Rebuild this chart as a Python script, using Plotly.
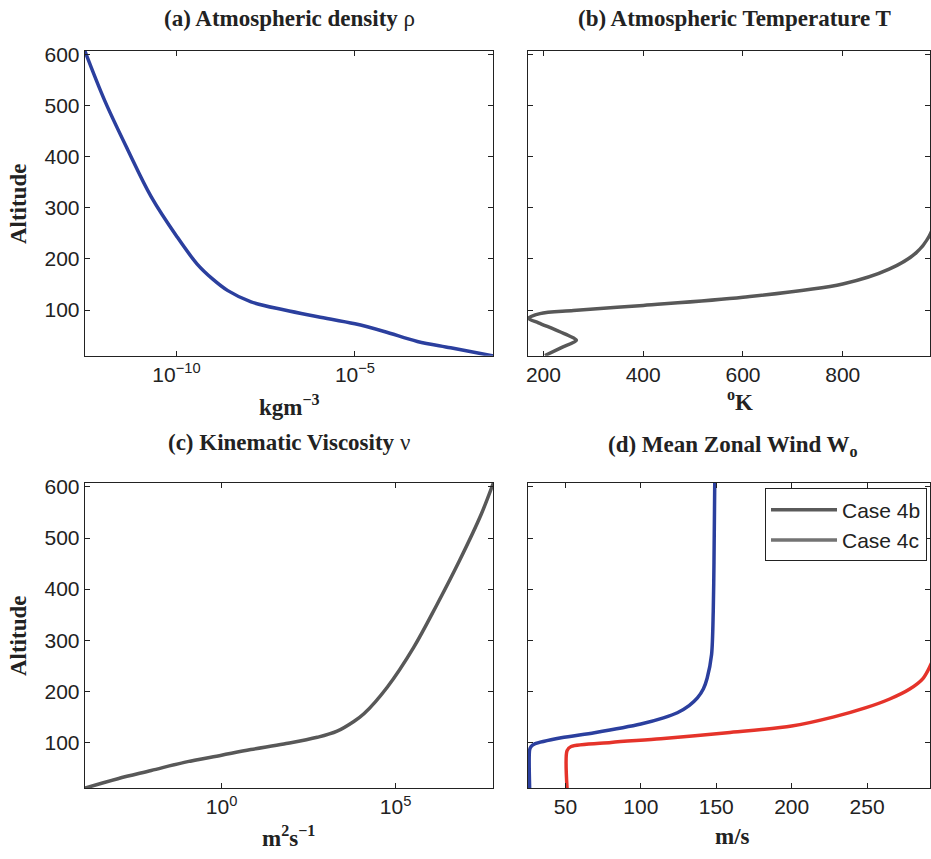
import plotly.graph_objects as go

# ---------------- data ----------------
# (a) Atmospheric density (kg m^-3) vs altitude
alt_rho = [10, 26, 38.5, 58, 73, 87, 100, 116, 138, 161, 190, 245, 322, 413, 510, 608]
rho = [7.59e-2, 4.79e-3, 5.62e-4, 6.61e-5, 1.0e-5, 9.12e-7, 1.07e-7, 1.23e-8,
       2.75e-9, 1.02e-9, 3.8e-10, 1.0e-10, 1.95e-11, 4.37e-12, 9.77e-13, 2.69e-13]

# (b) Atmospheric temperature (K) vs altitude
alt_T = [11, 26, 41, 50, 62, 75, 84, 93, 99, 109, 125, 151, 180, 212, 244, 300, 400, 500, 610]
temp_K = [203, 235, 266, 250, 222, 190, 170, 193, 260, 400, 600, 800, 893, 947, 973, 992, 1000, 1000, 1000]

# (c) Kinematic viscosity (m^2 s^-1) vs altitude
alt_nu = [10.5, 29, 45, 61, 75, 86, 97, 110, 122, 141, 156, 208, 286, 370, 455, 545, 608]
nu = [1.17e-4, 1.05e-3, 9.55e-3, 8.51e-2, 1.0, 6.92, 61.7, 562, 2.09e3, 6.31e3,
      1.23e4, 5.75e4, 3.31e5, 1.55e6, 6.76e6, 2.82e7, 6.46e7]

# (d) Mean zonal wind (m/s) vs altitude
alt_w4b = [10, 86, 92, 97, 109, 119, 136, 148, 158, 172, 187, 205, 226, 272, 356, 453, 608]
wind_4b = [26.3, 26.3, 27.2, 29.6, 47.2, 69.2, 100, 115, 124.2, 132, 137.5, 141.5, 144,
           146.9, 148, 148.5, 149]
alt_w4c = [10, 84, 92, 100, 107, 119, 132, 150, 168, 185, 204, 225, 249, 280, 350, 450, 608]
wind_4c = [51.1, 51.1, 53.8, 80.2, 113.2, 157.3, 200, 228, 249.3, 265, 278, 287, 291.7,
           296, 300, 302, 303]

legend_names = ["Case 4b", "Case 4c"]
y_ticks = [100, 200, 300, 400, 500, 600]

# ---------------- figure ----------------
W, H = 931, 859
BLUE = "#2b3f9e"
RED = "#e5332a"
GRAY = "#585858"
AX = "#222222"
SANS = "Liberation Sans, Arial, sans-serif"
SERIF = "Liberation Serif, Times New Roman, serif"

fig = go.Figure()
fig.add_trace(go.Scatter(x=rho, y=alt_rho, mode="lines",
                         line=dict(color=BLUE, width=3.5, shape="spline", smoothing=1.0),
                         xaxis="x", yaxis="y", showlegend=False))
fig.add_trace(go.Scatter(x=temp_K, y=alt_T, mode="lines",
                         line=dict(color=GRAY, width=3.5, shape="spline", smoothing=0.9),
                         xaxis="x2", yaxis="y2", showlegend=False))
fig.add_trace(go.Scatter(x=nu, y=alt_nu, mode="lines",
                         line=dict(color=GRAY, width=3.5, shape="spline", smoothing=1.0),
                         xaxis="x3", yaxis="y3", showlegend=False))
fig.add_trace(go.Scatter(x=wind_4b, y=alt_w4b, mode="lines",
                         line=dict(color=BLUE, width=3.5, shape="spline", smoothing=0.8),
                         xaxis="x4", yaxis="y4", showlegend=False))
fig.add_trace(go.Scatter(x=wind_4c, y=alt_w4c, mode="lines",
                         line=dict(color=RED, width=3.5, shape="spline", smoothing=0.8),
                         xaxis="x4", yaxis="y4", showlegend=False))
# legend entries (drawn gray in the reference)
fig.add_trace(go.Scatter(x=[None], y=[None], mode="lines", name=legend_names[0],
                         line=dict(color="#5a5a5a", width=3.5), xaxis="x4", yaxis="y4"))
fig.add_trace(go.Scatter(x=[None], y=[None], mode="lines", name=legend_names[1],
                         line=dict(color="#737373", width=3.5), xaxis="x4", yaxis="y4"))


def fx(p):
    return p / W


def fy(p):
    return 1 - p / H


common = dict(showline=True, linecolor=AX, linewidth=1, mirror="ticks", ticks="inside",
              ticklen=5, tickcolor=AX, showgrid=False, zeroline=False,
              tickfont=dict(family=SANS, size=21, color=AX))

top_dom = [fy(351), fy(43)]
bot_dom = [fy(787.5), fy(479.3)]
left_dom = [fx(83), fx(493)]
right_dom = [fx(527.7), 1.0]
YR = [10.5, 608]

fig.update_layout(
    width=W, height=H, margin=dict(l=0, r=0, t=0, b=0),
    paper_bgcolor="white", plot_bgcolor="white",
    hovermode=False,
    xaxis=dict(domain=left_dom, anchor="y", type="log", range=[-12.57, -1.12],
               tickvals=[1e-10, 1e-5], ticktext=["10<sup>−10</sup>", "10<sup>−5</sup>"], **common),
    yaxis=dict(domain=top_dom, anchor="x", range=YR, tickvals=y_ticks, **common),
    xaxis2=dict(domain=right_dom, anchor="y2", range=[169, 975], tickvals=[200, 400, 600, 800], **common),
    yaxis2=dict(domain=top_dom, anchor="x2", range=YR, tickvals=y_ticks, showticklabels=False, **common),
    xaxis3=dict(domain=left_dom, anchor="y3", type="log", range=[-3.93, 7.81],
                tickvals=[1, 1e5], ticktext=["10<sup>0</sup>", "10<sup>5</sup>"], **common),
    yaxis3=dict(domain=bot_dom, anchor="x3", range=YR, tickvals=y_ticks, **common),
    xaxis4=dict(domain=right_dom, anchor="y4", range=[25.2, 291.7], tickvals=[50, 100, 150, 200, 250], **common),
    yaxis4=dict(domain=bot_dom, anchor="x4", range=YR, tickvals=y_ticks, showticklabels=False, **common),
    legend=dict(x=fx(928), xanchor="right", y=fy(485), yanchor="top",
                bordercolor=AX, borderwidth=1, bgcolor="white",
                font=dict(family=SANS, size=21, color=AX),
                itemwidth=66, tracegroupgap=0),
)

serif = dict(family=SERIF, size=23, color=AX)
ann = [
    ("<b>(a) Atmospheric density</b> ρ", 288, 11, 0),
    ("<b>(b) Atmospheric Temperature T</b>", 735, 11, 0),
    ("<b>(c) Kinematic Viscosity</b> ν", 288, 439, 0),
    ("<b>(d) Mean Zonal Wind W<sub>o</sub></b>", 733, 442, 0),
    ("<b>Altitude</b>", 16, 197, -90),
    ("<b>Altitude</b>", 16, 633, -90),
    ("<b>kgm<sup>−3</sup></b>", 288, 401, 0),
    ("<b><sup>o</sup>K</b>", 740, 396, 0),
    ("<b>m<sup>2</sup>s<sup>−1</sup></b>", 287, 836, 0),
    ("<b>m/s</b>", 733, 836, 0),
]
for text, x, y, ang in ann:
    fig.add_annotation(text=text, x=fx(x), y=fy(y), xref="paper", yref="paper",
                       xanchor="center", yanchor="middle", showarrow=False,
                       textangle=ang, font=serif)

fig.write_html("out.html", config={"displayModeBar": False, "staticPlot": True},
               post_script="document.body.style.margin='0';document.body.style.overflow='hidden';")
